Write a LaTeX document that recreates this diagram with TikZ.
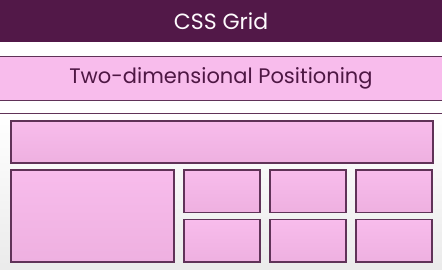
\documentclass[tikz,border=0pt]{standalone}
\usepackage{fontspec}
\setmainfont{Poppins}
\usepackage{tikz}
\usetikzlibrary{positioning}
\definecolor{plum}{RGB}{82,24,72}
\definecolor{plumline}{RGB}{96,50,88}
\definecolor{pinkfill}{RGB}{248,188,236}
\definecolor{pinkdark}{RGB}{238,176,224}
\tikzset{
  titlebar/.style={fill=plum, text=white!92!pinkfill, font=\fontsize{22}{24}\selectfont,
                   minimum width=442pt, minimum height=42pt, inner sep=0pt, outer sep=0pt},
  band/.style={fill=pinkfill, text=plum!95!black, font=\fontsize{21}{24}\selectfont,
               minimum width=442pt, minimum height=44pt, inner sep=0pt, outer sep=0pt},
  cell/.style={draw=plumline, line width=1.3pt, top color=pinkfill, bottom color=pinkdark,
               inner sep=0pt, outer sep=0pt},
  wide/.style={cell, minimum width=422pt, minimum height=42pt},
  tall/.style={cell, minimum width=163pt, minimum height=92pt},
  small/.style={cell, minimum width=76pt, minimum height=42.5pt},
  rule/.style={draw=plumline, line width=0.9pt}
}

\begin{document}
\begin{tikzpicture}[x=1pt, y=1pt, node distance=7pt and 10pt]
\useasboundingbox (0,0) rectangle (442,-269);
\fill[white] (0,0) rectangle (442,-269);
% heading bar and the subtitle band
\node[titlebar, anchor=north west] (title) at (0,0) {CSS Grid};
\node[band, below=14pt of title] (sub) {Two-dimensional Positioning};
\draw[rule] (sub.north west) -- (sub.north east);
\draw[rule] (sub.south west) -- (sub.south east);
% grid container
\node[top color=white, bottom color=black!8, minimum width=442pt, minimum height=156pt,
      inner sep=0pt, outer sep=0pt, below=13pt of sub] (box) {};
\draw[rule] (box.north west) -- (box.north east);
% grid items
\node[wide, anchor=north west] (hdr) at (11,-121) {};
\node[tall, below right=7pt and 0pt of hdr.south west] (main) {};
\node[small, below right=0pt and 10pt of main.north east] (a) {};
\node[small, right=of a] (b) {};
\node[small, right=of b] (c) {};
\node[small, below=of a] (d) {};
\node[small, below=of b] (e) {};
\node[small, below=of c] (f) {};
\end{tikzpicture}
\end{document}
